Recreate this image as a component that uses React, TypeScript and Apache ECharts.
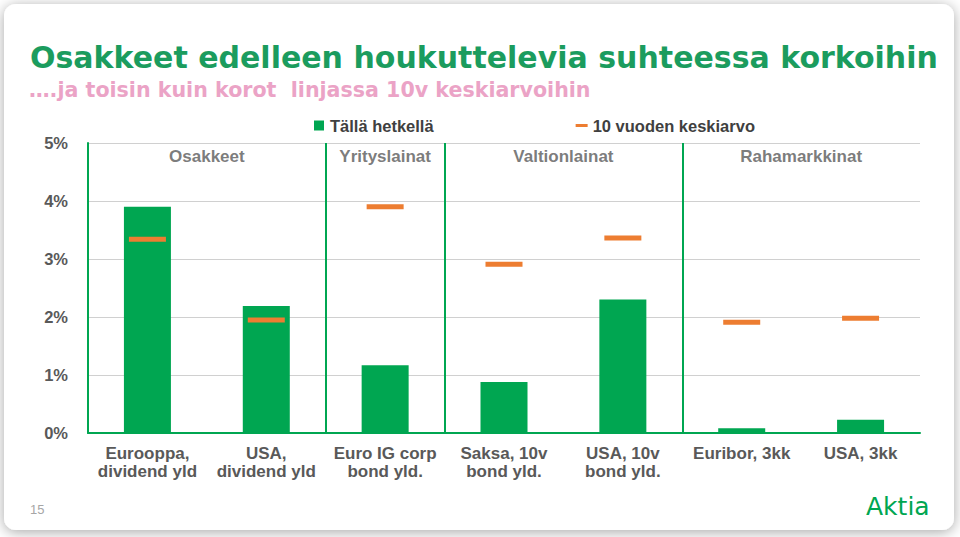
import React, { useEffect, useRef } from "react";
import * as echarts from "echarts";

const categories = [
  "Eurooppa,\ndividend yld",
  "USA,\ndividend yld",
  "Euro IG corp\nbond yld.",
  "Saksa, 10v\nbond yld.",
  "USA, 10v\nbond yld.",
  "Euribor, 3kk",
  "USA, 3kk",
];
const currentValues = [3.9, 2.19, 1.17, 0.88, 2.3, 0.08, 0.23];
const averageValues = [3.34, 1.95, 3.9, 2.91, 3.36, 1.91, 1.98];
const groupNames = ["Osakkeet", "Yrityslainat", "Valtionlainat", "Rahamarkkinat"];
const groupCenters = [1, 2.5, 4, 6];
const groupDividers = [2, 3, 5];
const groupLabelLevel = 4.76;

const GREEN = "#00a651";
const ORANGE = "#ed7d31";
const FONT = "'Liberation Sans', Arial, sans-serif";
const ROUND = "'DejaVu Sans', sans-serif";

export default function App() {
  const ref = useRef<HTMLDivElement>(null);
  useEffect(() => {
    if (!ref.current) return;
    const chart = echarts.init(ref.current, null, { renderer: "svg" });
    chart.setOption({
      animation: false,
      backgroundColor: "#ffffff",
      textStyle: { fontFamily: FONT },
      title: [
        {
          text: "Osakkeet edelleen houkuttelevia suhteessa korkoihin",
          left: 25,
          top: 37,
          textStyle: { fontSize: 30, fontWeight: "bold", color: "#1b9c5e", fontFamily: ROUND },
        },
        {
          text: "\u2026.ja toisin kuin korot  linjassa 10v keskiarvoihin",
          left: 24,
          top: 74,
          textStyle: { fontSize: 20.6, fontWeight: "bold", color: "#eba3c6", fontFamily: ROUND },
        },
      ],
      graphic: [
        {
          type: "rect",
          z: -10,
          shape: { x: 4, y: 4, width: 950, height: 526, r: 12 },
          style: { fill: "#ffffff", shadowBlur: 14, shadowColor: "rgba(0,0,0,0.35)", shadowOffsetX: 0, shadowOffsetY: 2 },
        },
        {
          type: "text",
          left: 30,
          top: 503,
          style: { text: "15", fontSize: 13, fill: "#a6a6a6", fontFamily: FONT },
        },
        {
          type: "text",
          left: 866,
          top: 494,
          style: { text: "Aktia", fontSize: 25, fill: GREEN, fontFamily: ROUND },
        },
      ],
      legend: {
        left: 309,
        top: 112,
        itemGap: 142,
        itemWidth: 12,
        itemHeight: 10,
        textStyle: { fontSize: 16.5, fontWeight: "bold", color: "#404040", fontFamily: FONT },
        data: [
          { name: "Tällä hetkellä", icon: "path://M0,0h10v10h-10z" },
          { name: "10 vuoden keskiarvo", icon: "path://M0,0h12v3h-12z" },
        ],
      },
      grid: { left: 88, right: 40, top: 143, bottom: 104 },
      xAxis: [
        {
          type: "category",
          data: categories,
          axisLine: { show: true, lineStyle: { color: GREEN, width: 2 } },
          axisTick: { show: false },
          axisLabel: {
            interval: 0,
            margin: 11,
            fontSize: 17,
            fontWeight: "bold",
            color: "#595959",
            lineHeight: 18,
            fontFamily: FONT,
          },
        },
        { type: "value", min: 0, max: 7, show: false },
      ],
      yAxis: {
        type: "value",
        min: 0,
        max: 5,
        interval: 1,
        axisLine: { show: true, lineStyle: { color: GREEN, width: 2 } },
        axisTick: { show: false },
        axisLabel: {
          formatter: "{value}%",
          margin: 20,
          fontSize: 16.5,
          fontWeight: "bold",
          color: "#595959",
          fontFamily: FONT,
        },
        splitLine: { lineStyle: { color: "#d0d0d0", width: 1 } },
      },
      series: [
        {
          name: "Tällä hetkellä",
          type: "bar",
          data: currentValues,
          barWidth: 47,
          itemStyle: { color: GREEN },
          z: 2,
        },
        {
          name: "10 vuoden keskiarvo",
          type: "scatter",
          data: averageValues,
          symbol: "rect",
          symbolSize: [37, 5],
          itemStyle: { color: ORANGE, opacity: 1 },
          z: 3,
        },
        {
          name: "groups",
          type: "scatter",
          xAxisIndex: 1,
          symbolSize: 0,
          silent: true,
          data: groupNames.map((n, i) => ({ name: n, value: [groupCenters[i], groupLabelLevel] })),
          label: {
            show: true,
            position: "inside",
            formatter: "{b}",
            fontSize: 17,
            fontWeight: "bold",
            color: "#595959",
            fontFamily: FONT,
          },
          markLine: {
            silent: true,
            symbol: "none",
            label: { show: false },
            lineStyle: { color: GREEN, width: 2, type: "solid" },
            data: groupDividers.map((x) => ({ xAxis: x })),
          },
        },
      ],
    });
    return () => chart.dispose();
  }, []);
  return (
    <div
      ref={ref}
      style={{ position: "fixed", left: 0, top: 0, width: 960, height: 537 }}
    />
  );
}
